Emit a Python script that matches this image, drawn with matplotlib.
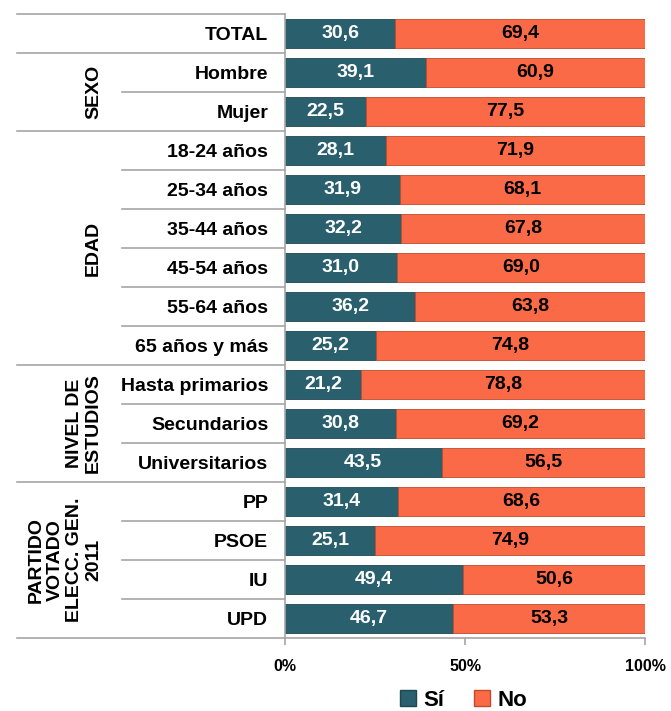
import matplotlib
matplotlib.use("Agg")
import matplotlib.pyplot as plt
from matplotlib.lines import Line2D

plt.rcParams['font.family'] = ['Liberation Sans', 'DejaVu Sans']
plt.rcParams['font.weight'] = 'bold'

categories = ["TOTAL", "Hombre", "Mujer", "18-24 años", "25-34 años", "35-44 años",
              "45-54 años", "55-64 años", "65 años y más", "Hasta primarios",
              "Secundarios", "Universitarios", "PP", "PSOE", "IU", "UPD"]
si_values = [30.6, 39.1, 22.5, 28.1, 31.9, 32.2, 31.0, 36.2, 25.2, 21.2, 30.8, 43.5,
             31.4, 25.1, 49.4, 46.7]
no_values = [69.4, 60.9, 77.5, 71.9, 68.1, 67.8, 69.0, 63.8, 74.8, 78.8, 69.2, 56.5,
             68.6, 74.9, 50.6, 53.3]
groups = [("", 0, 0), ("SEXO", 1, 2), ("EDAD", 3, 8), ("NIVEL DE\nESTUDIOS", 9, 11),
          ("PARTIDO\nVOTADO\nELECC. GEN.\n2011", 12, 15)]
series_names = ["Sí", "No"]
xticks = [0, 50, 100]
xticklabels = ["0%", "50%", "100%"]

SI_COLOR = "#2a5f6d"
NO_COLOR = "#fb6a46"
LINE_COLOR = "#a6a6a6"

fig = plt.figure(figsize=(6.71, 7.11), dpi=100)
ax = fig.add_axes([285/671, 1-638/711, 360/671, 624/711])

y = list(range(len(categories)))
h = 0.74
ax.barh(y, si_values, height=h, color=SI_COLOR, edgecolor="#1f4650", linewidth=0.6)
ax.barh(y, no_values, left=si_values, height=h, color=NO_COLOR, edgecolor="#c24a2c", linewidth=0.6)

FS = 14
for i, (s, n) in enumerate(zip(si_values, no_values)):
    ax.text(s/2, i, f"{s:.1f}".replace(".", ","), ha="center", va="center",
            color="white", fontsize=FS, fontweight="bold")
    ax.text(s + n/2, i, f"{n:.1f}".replace(".", ","), ha="center", va="center",
            color="black", fontsize=FS, fontweight="bold")

ax.set_xlim(0, 100)
ax.set_ylim(len(categories)-0.5, -0.5)
ax.set_yticks(y)
ax.set_yticklabels(categories, fontsize=FS, fontweight="bold")
ax.tick_params(axis="y", length=0, pad=12)
ax.set_xticks(xticks)
ax.set_xticklabels(xticklabels, fontsize=11.5, fontweight="bold")
ax.tick_params(axis="x", length=5, width=1.2, color=LINE_COLOR, pad=10)

for side in ["top", "right"]:
    ax.spines[side].set_visible(False)
for side in ["left", "bottom"]:
    ax.spines[side].set_color(LINE_COLOR)
    ax.spines[side].set_linewidth(1.2)

tr = ax.get_yaxis_transform()
x_full = (17-285)/360
x_inner = (122-285)/360
boundaries_full = set()
for name, a, b in groups:
    boundaries_full.add(a - 0.5)
    boundaries_full.add(b + 0.5)
for k in range(len(categories)+1):
    yy = k - 0.5
    x0 = x_full if yy in boundaries_full else x_inner
    ax.add_line(Line2D([x0, 0], [yy, yy], transform=tr, color=LINE_COLOR,
                       linewidth=1.2, clip_on=False))

x_group = (102-285)/360
for name, a, b in groups:
    if name:
        ax.text(x_group, (a+b)/2, name, transform=tr, rotation=90, ha="right",
                va="center", multialignment="center", fontsize=FS, fontweight="bold",
                linespacing=1.17)

handles = [Line2D([], [], marker="s", linestyle="none", markersize=11,
                  markerfacecolor=SI_COLOR, markeredgecolor="#1f4650"),
           Line2D([], [], marker="s", linestyle="none", markersize=11,
                  markerfacecolor=NO_COLOR, markeredgecolor="#c24a2c")]
fig.legend(handles, series_names, loc="center", bbox_to_anchor=(462/671, 1-700/711),
           ncol=2, frameon=False, prop={"size": 16, "weight": "bold"},
           handletextpad=0.2, columnspacing=1.2, handlelength=1.0)

fig.savefig("out.png", dpi=100)
